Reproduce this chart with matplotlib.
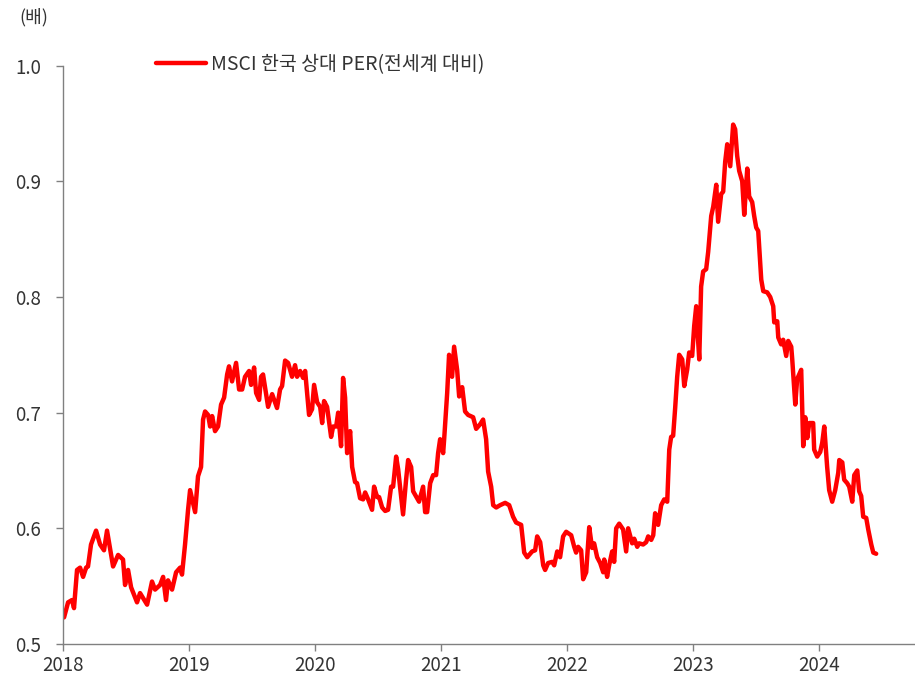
import matplotlib
matplotlib.use("Agg")
import matplotlib.pyplot as plt

plt.rcParams['font.family'] = ['Noto Sans CJK KR', 'DejaVu Sans']

# decimal-year positions of observations
dates = [
    2018.008, 2018.040, 2018.071, 2018.087, 2018.111, 2018.135, 2018.159, 2018.183, 2018.198, 2018.222,
    2018.262, 2018.294, 2018.325, 2018.349, 2018.397, 2018.437, 2018.476, 2018.492, 2018.516, 2018.540,
    2018.587, 2018.611, 2018.667, 2018.706, 2018.730, 2018.770, 2018.794, 2018.817, 2018.833, 2018.865,
    2018.897, 2018.929, 2018.944, 2018.968, 2018.992,
    2019.008, 2019.048, 2019.071, 2019.095, 2019.111, 2019.127, 2019.151, 2019.167, 2019.183, 2019.206,
    2019.230, 2019.254, 2019.278, 2019.302, 2019.317, 2019.341, 2019.373, 2019.397, 2019.421, 2019.444,
    2019.476, 2019.492, 2019.516, 2019.532, 2019.556, 2019.571, 2019.587, 2019.627, 2019.659, 2019.698,
    2019.722, 2019.738, 2019.762, 2019.786, 2019.817, 2019.841, 2019.857, 2019.881, 2019.905, 2019.921,
    2019.952, 2019.976, 2019.992,
    2020.016, 2020.040, 2020.056, 2020.071, 2020.095, 2020.127, 2020.143, 2020.167, 2020.183, 2020.206,
    2020.222, 2020.238, 2020.254, 2020.278, 2020.294, 2020.317, 2020.333, 2020.357, 2020.381, 2020.397,
    2020.421, 2020.452, 2020.468, 2020.492, 2020.508, 2020.532, 2020.556, 2020.579, 2020.603, 2020.619,
    2020.643, 2020.659, 2020.698, 2020.722, 2020.738, 2020.762, 2020.778, 2020.810, 2020.825, 2020.857,
    2020.873, 2020.889, 2020.913, 2020.937, 2020.960, 2020.976, 2020.992,
    2021.016, 2021.024, 2021.048, 2021.063, 2021.087, 2021.103, 2021.127, 2021.143, 2021.167, 2021.190,
    2021.214, 2021.254, 2021.278, 2021.310, 2021.333, 2021.357, 2021.373, 2021.397, 2021.413, 2021.437,
    2021.468, 2021.508, 2021.540, 2021.571, 2021.595, 2021.635, 2021.659, 2021.683, 2021.722, 2021.746,
    2021.762, 2021.786, 2021.810, 2021.825, 2021.849, 2021.881, 2021.897, 2021.921, 2021.944, 2021.968,
    2021.992,
    2022.032, 2022.056, 2022.071, 2022.087, 2022.111, 2022.127, 2022.151, 2022.175, 2022.198, 2022.214,
    2022.238, 2022.262, 2022.286, 2022.294, 2022.317, 2022.333, 2022.357, 2022.373, 2022.389, 2022.413,
    2022.444, 2022.468, 2022.484, 2022.516, 2022.532, 2022.556, 2022.571, 2022.603, 2022.627, 2022.643,
    2022.667, 2022.683, 2022.698, 2022.722, 2022.746, 2022.770, 2022.794, 2022.810, 2022.825, 2022.841,
    2022.857, 2022.873, 2022.889, 2022.913, 2022.929, 2022.952, 2022.968, 2022.992,
    2023.008, 2023.024, 2023.032, 2023.048, 2023.063, 2023.079, 2023.103, 2023.119, 2023.143, 2023.159,
    2023.183, 2023.198, 2023.222, 2023.238, 2023.254, 2023.270, 2023.294, 2023.317, 2023.333, 2023.349,
    2023.365, 2023.389, 2023.405, 2023.429, 2023.444, 2023.468, 2023.484, 2023.500, 2023.516, 2023.540,
    2023.556, 2023.587, 2023.611, 2023.635, 2023.643, 2023.667, 2023.675, 2023.698, 2023.714, 2023.738,
    2023.754, 2023.778, 2023.786, 2023.810, 2023.825, 2023.857, 2023.873, 2023.889, 2023.905, 2023.921,
    2023.952, 2023.960, 2023.984,
    2024.008, 2024.024, 2024.040, 2024.063, 2024.079, 2024.103, 2024.127, 2024.151, 2024.159, 2024.183,
    2024.198, 2024.222, 2024.238, 2024.262, 2024.278, 2024.302, 2024.317, 2024.333, 2024.349, 2024.373,
    2024.389, 2024.413, 2024.429, 2024.452,
]

# MSCI Korea relative PER vs. world (x)
relative_per = [
    0.523, 0.536, 0.538, 0.531, 0.564, 0.566, 0.558, 0.566, 0.567, 0.586,
    0.598, 0.586, 0.581, 0.598, 0.567, 0.577, 0.573, 0.551, 0.564, 0.549,
    0.536, 0.544, 0.534, 0.554, 0.547, 0.551, 0.558, 0.538, 0.555, 0.547,
    0.562, 0.566, 0.560, 0.586, 0.616,
    0.633, 0.614, 0.645, 0.653, 0.694, 0.701, 0.698, 0.688, 0.697, 0.684,
    0.688, 0.707, 0.713, 0.733, 0.740, 0.727, 0.743, 0.720, 0.720, 0.731,
    0.736, 0.724, 0.739, 0.717, 0.711, 0.731, 0.733, 0.705, 0.716, 0.704,
    0.720, 0.723, 0.745, 0.743, 0.731, 0.741, 0.731, 0.736, 0.730, 0.736,
    0.698, 0.703, 0.724,
    0.709, 0.705, 0.691, 0.710, 0.705, 0.679, 0.688, 0.688, 0.700, 0.671,
    0.730, 0.713, 0.665, 0.684, 0.653, 0.640, 0.639, 0.626, 0.625, 0.631,
    0.625, 0.616, 0.636, 0.627, 0.627, 0.618, 0.615, 0.616, 0.636, 0.636,
    0.662, 0.651, 0.612, 0.642, 0.659, 0.653, 0.632, 0.626, 0.623, 0.636,
    0.614, 0.614, 0.639, 0.646, 0.646, 0.665, 0.677,
    0.665, 0.677, 0.717, 0.750, 0.731, 0.757, 0.737, 0.714, 0.722, 0.701,
    0.698, 0.696, 0.686, 0.690, 0.694, 0.677, 0.649, 0.636, 0.620, 0.618,
    0.620, 0.622, 0.620, 0.610, 0.605, 0.603, 0.579, 0.575, 0.580, 0.581,
    0.593, 0.588, 0.568, 0.564, 0.570, 0.571, 0.568, 0.580, 0.575, 0.593,
    0.597,
    0.594, 0.584, 0.579, 0.584, 0.581, 0.556, 0.562, 0.601, 0.583, 0.587,
    0.575, 0.570, 0.562, 0.573, 0.558, 0.568, 0.580, 0.571, 0.600, 0.604,
    0.599, 0.580, 0.600, 0.587, 0.591, 0.584, 0.587, 0.586, 0.588, 0.593,
    0.590, 0.594, 0.613, 0.603, 0.620, 0.625, 0.623, 0.668, 0.679, 0.680,
    0.704, 0.731, 0.750, 0.746, 0.723, 0.737, 0.752, 0.749,
    0.775, 0.792, 0.775, 0.746, 0.809, 0.822, 0.824, 0.839, 0.870, 0.878,
    0.897, 0.865, 0.889, 0.891, 0.917, 0.932, 0.913, 0.949, 0.945, 0.922,
    0.909, 0.900, 0.871, 0.911, 0.887, 0.882, 0.870, 0.860, 0.857, 0.815,
    0.805, 0.804, 0.800, 0.792, 0.778, 0.779, 0.765, 0.759, 0.763, 0.749,
    0.762, 0.757, 0.746, 0.707, 0.729, 0.737, 0.671, 0.696, 0.678, 0.691,
    0.691, 0.668, 0.662,
    0.666, 0.674, 0.688, 0.653, 0.633, 0.623, 0.633, 0.648, 0.659, 0.657,
    0.642, 0.639, 0.636, 0.623, 0.646, 0.650, 0.632, 0.628, 0.610, 0.609,
    0.599, 0.586, 0.579, 0.578,
]

series_label = "MSCI 한국 상대 PER(전세계 대비)"
unit_label = "(배)"
year_ticks = [2018, 2019, 2020, 2021, 2022, 2023, 2024]
y_ticks = [0.5, 0.6, 0.7, 0.8, 0.9, 1.0]

fig = plt.figure(figsize=(9.15, 6.84), dpi=100)
ax = fig.add_axes([0.0689, 0.0585, 0.9311, 0.8456])

ax.plot(dates, relative_per, color="#FF0000", linewidth=3.2, label=series_label,
        solid_joinstyle="round", solid_capstyle="round")

ax.set_xlim(2018, 2024.76)
ax.set_ylim(0.5, 1.0)
ax.set_xticks(year_ticks)
ax.set_xticklabels([str(y) for y in year_ticks])
ax.set_yticks(y_ticks)
ax.set_yticklabels([f"{v:.1f}" for v in y_ticks])

for s in ["top", "right"]:
    ax.spines[s].set_visible(False)
for s in ["left", "bottom"]:
    ax.spines[s].set_color("#808080")
    ax.spines[s].set_linewidth(1.0)

ax.tick_params(axis="both", direction="out", length=5, width=1.0, color="#808080",
               labelsize=13.5, labelcolor="#333333")
ax.tick_params(axis="y", pad=11)
ax.tick_params(axis="x", pad=3)

leg = ax.legend(loc="upper left", bbox_to_anchor=(0.100, 1.033), frameon=False,
                fontsize=14, handlelength=2.55, handletextpad=0.3, borderaxespad=0)
for t in leg.get_texts():
    t.set_color("#333333")

fig.text(0.021, 0.988, unit_label, fontsize=13, color="#333333", va="top", ha="left")

fig.savefig("out.png", dpi=100)
